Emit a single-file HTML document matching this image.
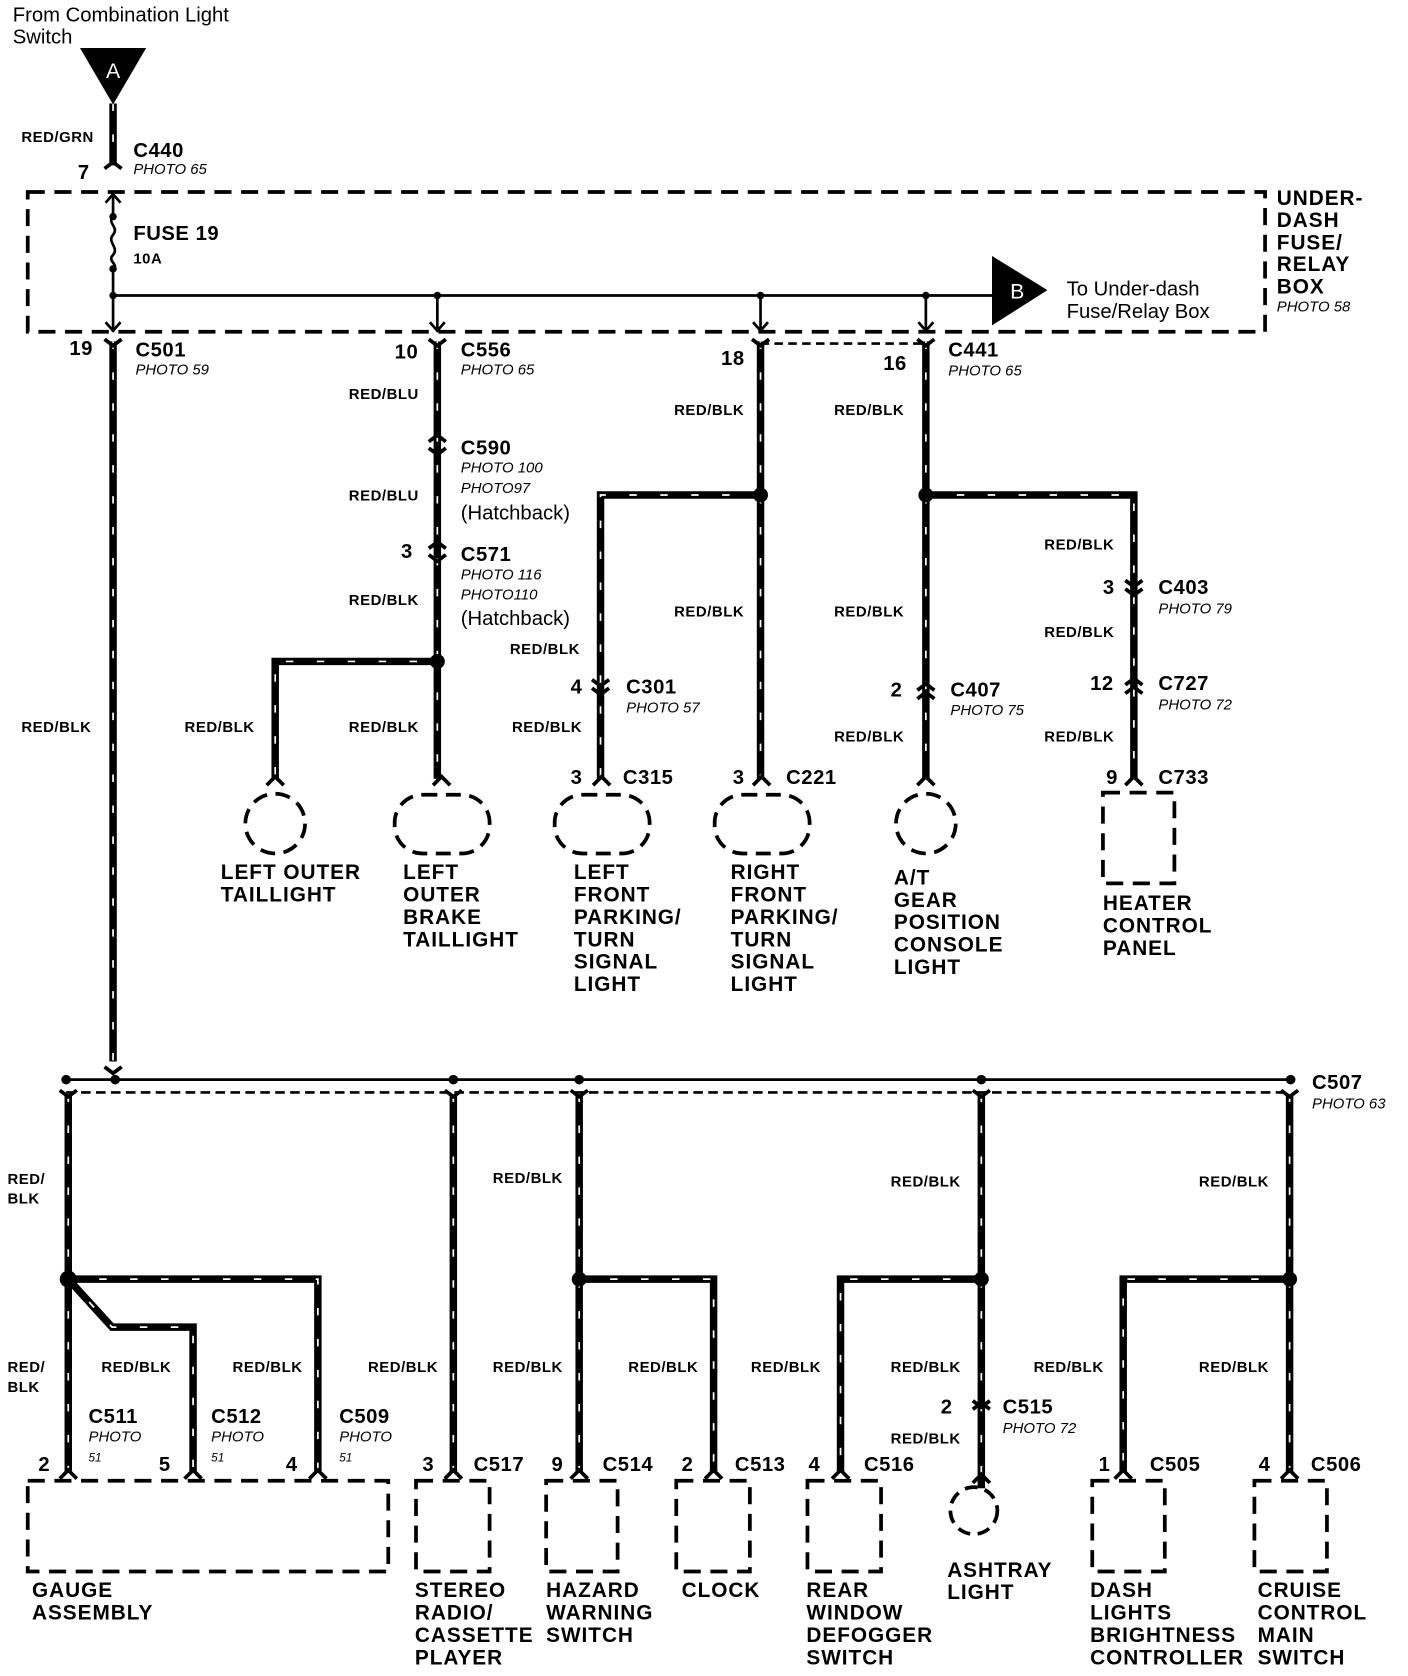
<!DOCTYPE html>
<html><head><meta charset="utf-8"><style>
html,body{margin:0;padding:0;background:#fff}
svg{display:block}
text{font-family:"Liberation Sans",Arial,sans-serif;fill:#000}
.b{font-weight:bold;font-size:14px;letter-spacing:0.5px}
.c{font-weight:bold;font-size:19px;letter-spacing:0.5px}
.p{font-style:italic;font-size:14px}
.l{font-weight:bold;font-size:19.5px;letter-spacing:0.9px}
.r{font-size:19px}
.w{fill:none;stroke:#000;stroke-width:7;stroke-linejoin:miter}
.wd{fill:none;stroke:#fff;stroke-width:1.6;stroke-dasharray:7 22}
.t{fill:none;stroke:#000;stroke-width:2.5}
.d{fill:none;stroke:#000;stroke-width:3.5;stroke-dasharray:16 9}
.k{fill:none;stroke:#000;stroke-width:3.5}
</style></head><body>
<svg width="1408" height="1676" viewBox="0 0 1320 1571" preserveAspectRatio="none" xmlns="http://www.w3.org/2000/svg">
<defs>
<path id="w1" d="M106 97V155"/>
<path id="w2" d="M106 320V995"/>
<path id="w3" d="M410 320V620H258V730M410 620V730"/>
<path id="w4" d="M713 320V730M713 464H563V730"/>
<path id="w5" d="M868 320V730M868 464H1063V730"/>
<path id="w6" d="M64 1026V1380M64 1199H298V1380M64 1199L105 1244H181V1380"/>
<path id="w7" d="M425 1026V1380"/>
<path id="w8" d="M543 1026V1380M543 1199H669V1380"/>
<path id="w9" d="M920 1026V1395M920 1199H788V1380"/>
<path id="w10" d="M1209 1026V1380M1209 1199H1053V1380"/>
</defs>
<g class="w"><use href="#w1"/><use href="#w2"/><use href="#w3"/><use href="#w4"/><use href="#w5"/><use href="#w6"/><use href="#w7"/><use href="#w8"/><use href="#w9"/><use href="#w10"/></g>
<g class="wd"><use href="#w1"/><use href="#w2"/><use href="#w3"/><use href="#w4"/><use href="#w5"/><use href="#w6"/><use href="#w7"/><use href="#w8"/><use href="#w9"/><use href="#w10"/></g>

<text class="r" x="12" y="20">From Combination Light</text>
<text class="r" x="12" y="41">Switch</text>
<polygon points="75,45 137,45 106,98" fill="#000"/>
<text x="106" y="73" text-anchor="middle" style="font-size:20px;fill:#fff">A</text>
<text class="b" x="20" y="133">RED/GRN</text>
<text class="c" x="125" y="147">C440</text><text class="p" x="125" y="163">PHOTO 65</text>
<text class="c" x="73" y="168">7</text>

<rect class="d" x="26" y="180" width="1160" height="131"/>
<path class="t" d="M106 180V200M106 252V311M106 277H930M410 277V311M713 277V311M868 277V311"/>
<path class="t" d="M106 203c-6 6 6 10 0 17c-6 7 6 12 0 19c-6 6 6 9 0 13"/>
<circle cx="106" cy="203" r="3.5"/><circle cx="106" cy="252" r="3.5"/><circle cx="106" cy="277" r="3.5"/>
<circle cx="410" cy="277" r="3.5"/><circle cx="713" cy="277" r="3.5"/><circle cx="868" cy="277" r="3.5"/>
<path class="t" d="M99 190l7-8 7 8M99 302l7 8 7-8M403 302l7 8 7-8M706 302l7 8 7-8M861 302l7 8 7-8"/>
<path class="k" d="M98 158l8-6 8 6M98 318l8 6 8-6M402 318l8 6 8-6M705 318l8 6 8-6M860 318l8 6 8-6"/>
<text class="c" x="125" y="225">FUSE 19</text><text class="b" x="125" y="247">10A</text>
<polygon points="930,240 982,272 930,305" fill="#000"/>
<text x="947" y="280" style="font-size:20px;fill:#fff">B</text>
<text class="r" x="1000" y="277">To Under-dash</text><text class="r" x="1000" y="298">Fuse/Relay Box</text>
<text class="l" x="1197" y="192">UNDER-</text><text class="l" x="1197" y="213">DASH</text><text class="l" x="1197" y="234">FUSE/</text><text class="l" x="1197" y="254">RELAY</text><text class="l" x="1197" y="275">BOX</text><text class="p" x="1197" y="292">PHOTO 58</text>

<text class="c" x="65" y="333">19</text><text class="c" x="127" y="334">C501</text><text class="p" x="127" y="351">PHOTO 59</text>
<text class="c" x="370" y="336">10</text><text class="c" x="432" y="334">C556</text><text class="p" x="432" y="351">PHOTO 65</text>
<text class="b" x="327" y="374">RED/BLU</text>
<path class="k" d="M402 414l8-6 8 6M402 420l8 6 8-6"/>
<text class="c" x="432" y="426">C590</text><text class="p" x="432" y="443">PHOTO 100</text><text class="p" x="432" y="462">PHOTO97</text><text class="r" x="432" y="487">(Hatchback)</text>
<text class="b" x="327" y="469">RED/BLU</text>
<path class="k" d="M402 514l8-6 8 6M402 520l8 6 8-6"/>
<text class="c" x="376" y="523">3</text><text class="c" x="432" y="526">C571</text><text class="p" x="432" y="543">PHOTO 116</text><text class="p" x="432" y="562">PHOTO110</text><text class="r" x="432" y="586">(Hatchback)</text>
<text class="b" x="327" y="567">RED/BLK</text>
<circle cx="410" cy="620" r="7"/>
<text class="b" x="173" y="686">RED/BLK</text><text class="b" x="327" y="686">RED/BLK</text>
<text class="b" x="20" y="686">RED/BLK</text>

<path class="t" d="M713 322H868" style="stroke-dasharray:8 5"/>
<text class="c" x="676" y="342">18</text><text class="c" x="828" y="347">16</text>
<text class="c" x="889" y="334">C441</text><text class="p" x="889" y="352">PHOTO 65</text>
<circle cx="713" cy="464" r="7"/><circle cx="868" cy="464" r="7"/>
<text class="b" x="632" y="389">RED/BLK</text><text class="b" x="782" y="389">RED/BLK</text>
<text class="b" x="632" y="578">RED/BLK</text><text class="b" x="782" y="578">RED/BLK</text><text class="b" x="782" y="695">RED/BLK</text>
<text class="b" x="478" y="613">RED/BLK</text><text class="b" x="480" y="686">RED/BLK</text>
<path class="k" d="M555 637l8 6 8-6M555 645l8 6 8-6"/>
<text class="c" x="535" y="650">4</text><text class="c" x="587" y="650">C301</text><text class="p" x="587" y="668">PHOTO 57</text>
<path class="k" d="M860 647l8-6 8 6M860 655l8-6 8 6"/>
<text class="c" x="835" y="653">2</text><text class="c" x="891" y="653">C407</text><text class="p" x="891" y="670">PHOTO 75</text>
<text class="b" x="979" y="515">RED/BLK</text><text class="b" x="979" y="597">RED/BLK</text><text class="b" x="979" y="695">RED/BLK</text>
<path class="k" d="M1055 544l8 6 8-6M1055 552l8 6 8-6M1055 642l8-6 8 6M1055 650l8-6 8 6"/>
<text class="c" x="1034" y="557">3</text><text class="c" x="1086" y="557">C403</text><text class="p" x="1086" y="575">PHOTO 79</text>
<text class="c" x="1022" y="647">12</text><text class="c" x="1086" y="647">C727</text><text class="p" x="1086" y="665">PHOTO 72</text>

<path class="k" d="M250 736l8-8 8 8M406 736l8-8 8 8M556 736l8-8 8 8M706 736l8-8 8 8M860 736l8-8 8 8M1055 736l8-8 8 8"/>
<text class="c" x="535" y="735">3</text><text class="c" x="584" y="735">C315</text>
<text class="c" x="687" y="735">3</text><text class="c" x="737" y="735">C221</text>
<text class="c" x="1037" y="735">9</text><text class="c" x="1086" y="735">C733</text>
<circle class="d" cx="258" cy="772" r="28" style="stroke-dasharray:14 8"/>
<rect class="d" x="370" y="745" width="89" height="55" rx="26" style="stroke-dasharray:14 8"/>
<rect class="d" x="520" y="745" width="89" height="55" rx="26" style="stroke-dasharray:14 8"/>
<rect class="d" x="670" y="745" width="89" height="55" rx="26" style="stroke-dasharray:14 8"/>
<circle class="d" cx="868" cy="772" r="28" style="stroke-dasharray:14 8"/>
<rect class="d" x="1034" y="743" width="67" height="85" style="stroke-dasharray:16 9"/>
<g class="l">
<text x="207" y="824">LEFT OUTER</text><text x="207" y="845">TAILLIGHT</text>
<text x="378" y="824">LEFT</text><text x="378" y="845">OUTER</text><text x="378" y="866">BRAKE</text><text x="378" y="887">TAILLIGHT</text>
<text x="538" y="824">LEFT</text><text x="538" y="845">FRONT</text><text x="538" y="866">PARKING/</text><text x="538" y="887">TURN</text><text x="538" y="908">SIGNAL</text><text x="538" y="929">LIGHT</text>
<text x="685" y="824">RIGHT</text><text x="685" y="845">FRONT</text><text x="685" y="866">PARKING/</text><text x="685" y="887">TURN</text><text x="685" y="908">SIGNAL</text><text x="685" y="929">LIGHT</text>
<text x="838" y="829">A/T</text><text x="838" y="850">GEAR</text><text x="838" y="871">POSITION</text><text x="838" y="892">CONSOLE</text><text x="838" y="913">LIGHT</text>
<text x="1034" y="853">HEATER</text><text x="1034" y="874">CONTROL</text><text x="1034" y="895">PANEL</text>
</g>

<path class="k" d="M98 1000l8 6 8-6"/>
<path class="t" d="M62 1012H1210"/>
<path class="t" d="M62 1024H1210" style="stroke-dasharray:9 5"/>
<g><circle cx="62" cy="1012" r="4.5"/><circle cx="108" cy="1012" r="4.5"/><circle cx="425" cy="1012" r="4.5"/><circle cx="543" cy="1012" r="4.5"/><circle cx="920" cy="1012" r="4.5"/><circle cx="1210" cy="1012" r="4.5"/></g>
<path class="k" d="M56 1022l8 6 8-6M417 1022l8 6 8-6M535 1022l8 6 8-6M912 1022l8 6 8-6M1201 1022l8 6 8-6"/>
<text class="c" x="1230" y="1021">C507</text><text class="p" x="1230" y="1039">PHOTO 63</text>
<text class="b" x="7" y="1110">RED/</text><text class="b" x="7" y="1128">BLK</text>
<text class="b" x="462" y="1109">RED/BLK</text><text class="b" x="835" y="1112">RED/BLK</text><text class="b" x="1124" y="1112">RED/BLK</text>
<circle cx="64" cy="1199" r="8"/><circle cx="543" cy="1199" r="7"/><circle cx="920" cy="1199" r="7"/><circle cx="1209" cy="1199" r="7"/>
<text class="b" x="7" y="1286">RED/</text><text class="b" x="7" y="1305">BLK</text>
<g class="b"><text x="95" y="1286">RED/BLK</text><text x="218" y="1286">RED/BLK</text><text x="345" y="1286">RED/BLK</text><text x="462" y="1286">RED/BLK</text><text x="589" y="1286">RED/BLK</text><text x="704" y="1286">RED/BLK</text><text x="835" y="1286">RED/BLK</text><text x="969" y="1286">RED/BLK</text><text x="1124" y="1286">RED/BLK</text><text x="835" y="1353">RED/BLK</text></g>
<text class="c" x="83" y="1334">C511</text><text class="p" x="83" y="1351">PHOTO</text><text class="p" x="83" y="1370" style="font-size:11px">51</text>
<text class="c" x="198" y="1334">C512</text><text class="p" x="198" y="1351">PHOTO</text><text class="p" x="198" y="1370" style="font-size:11px">51</text>
<text class="c" x="318" y="1334">C509</text><text class="p" x="318" y="1351">PHOTO</text><text class="p" x="318" y="1370" style="font-size:11px">51</text>
<path class="k" d="M912 1313l8 6 8-6M912 1321l8-6 8 6"/>
<text class="c" x="882" y="1325">2</text><text class="c" x="940" y="1325">C515</text><text class="p" x="940" y="1343">PHOTO 72</text>
<path class="k" d="M56 1386l8-8 8 8M173 1386l8-8 8 8M290 1386l8-8 8 8M417 1386l8-8 8 8M535 1386l8-8 8 8M661 1386l8-8 8 8M780 1386l8-8 8 8M1045 1386l8-8 8 8M1201 1386l8-8 8 8M912 1390l8-8 8 8"/>
<g class="c"><text x="36" y="1379">2</text><text x="149" y="1379">5</text><text x="268" y="1379">4</text>
<text x="396" y="1379">3</text><text x="444" y="1379">C517</text>
<text x="517" y="1379">9</text><text x="565" y="1379">C514</text>
<text x="639" y="1379">2</text><text x="689" y="1379">C513</text>
<text x="758" y="1379">4</text><text x="810" y="1379">C516</text>
<text x="1030" y="1379">1</text><text x="1078" y="1379">C505</text>
<text x="1180" y="1379">4</text><text x="1229" y="1379">C506</text></g>
<g class="d">
<rect x="26" y="1388" width="338" height="85"/>
<rect x="390" y="1388" width="69" height="85"/>
<rect x="512" y="1388" width="67" height="85"/>
<rect x="634" y="1388" width="69" height="85"/>
<rect x="757" y="1388" width="69" height="85"/>
<rect x="1024" y="1388" width="68" height="85"/>
<rect x="1176" y="1388" width="68" height="85"/>
<circle cx="913" cy="1416" r="22" style="stroke-dasharray:12 7"/>
</g>
<g class="l">
<text x="30" y="1497">GAUGE</text><text x="30" y="1518">ASSEMBLY</text>
<text x="389" y="1497">STEREO</text><text x="389" y="1518">RADIO/</text><text x="389" y="1539">CASSETTE</text><text x="389" y="1560">PLAYER</text>
<text x="512" y="1497">HAZARD</text><text x="512" y="1518">WARNING</text><text x="512" y="1539">SWITCH</text>
<text x="639" y="1497">CLOCK</text>
<text x="756" y="1497">REAR</text><text x="756" y="1518">WINDOW</text><text x="756" y="1539">DEFOGGER</text><text x="756" y="1560">SWITCH</text>
<text x="888" y="1478">ASHTRAY</text><text x="888" y="1499">LIGHT</text>
<text x="1022" y="1497">DASH</text><text x="1022" y="1518">LIGHTS</text><text x="1022" y="1539">BRIGHTNESS</text><text x="1022" y="1560">CONTROLLER</text>
<text x="1179" y="1497">CRUISE</text><text x="1179" y="1518">CONTROL</text><text x="1179" y="1539">MAIN</text><text x="1179" y="1560">SWITCH</text>
</g>
</svg>
</body></html>
